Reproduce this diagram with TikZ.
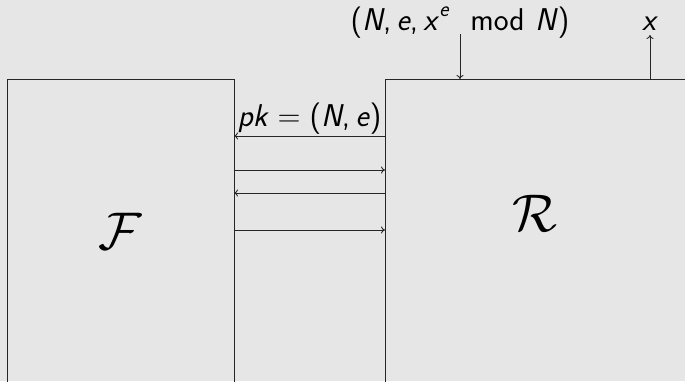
\RequirePackage{fix-cm}
\documentclass[tikz,border=0pt]{standalone}
\usetikzlibrary{arrows.meta}
\definecolor{bgray}{HTML}{E6E6E6}
\newcommand\vv[1]{\textit{#1}}
\newcommand\thk{\hspace{0.28em}}
\newcommand\thn{\hspace{0.17em}}
\begin{document}
\begin{tikzpicture}[x=1pt,y=-1pt,
  box/.style={draw=black!85,line width=1pt},
  msg/.style={draw=black!85,line width=0.9pt,-{To[length=4pt,width=7pt]}},
  lbl/.style={font=\fontsize{31.5}{36}\selectfont\sffamily},
  cal/.style={font=\fontsize{53}{60}\selectfont}]
\fill[bgray] (0,0) rectangle (685,381);
\useasboundingbox (0,0) rectangle (685,381);
\begin{scope}
\clip (0,0) rectangle (685,381);
\draw[box] (7,400) -- (7,79) -- (234,79) -- (234,400);
\draw[box] (385,400) -- (385,79) -- (700,79);
\end{scope}
\node[cal] (F) at (120,231) {$\mathcal{F}$};
\node[cal] (R) at (535,213) {$\mathcal{R}$};
% protocol arrows
\coordinate (l1) at (234,136); \coordinate (r1) at (385,136);
\coordinate (l2) at (234,170); \coordinate (r2) at (385,170);
\coordinate (l3) at (234,193); \coordinate (r3) at (385,193);
\coordinate (l4) at (234,230); \coordinate (r4) at (385,230);
\draw[msg] (r1) -- node[lbl,above,inner sep=1pt] (pk) {\vv{pk}\thk=\thk(\vv{N},\thn\vv{e})} (l1);
\draw[msg] (l2) -- (r2);
\draw[msg] (r3) -- (l3);
\draw[msg] (l4) -- (r4);
% input / output
\node[lbl,anchor=base] (in) at (460,30) {(\vv{N},\thn\vv{e},\thn\vv{x}\raisebox{0.42em}{\fontsize{22}{22}\selectfont\vv{e}}\hspace{0.67em}mod\hspace{0.33em}\vv{N})};
\coordinate (ins) at (460,34); \coordinate (ine) at (460,79);
\draw[msg] (ins) -- (ine);
\node[lbl,anchor=base] (out) at (650,30) {\vv{x}};
\coordinate (outs) at (650,79); \coordinate (oute) at (650,35);
\draw[msg] (outs) -- (oute);
\end{tikzpicture}
\end{document}
